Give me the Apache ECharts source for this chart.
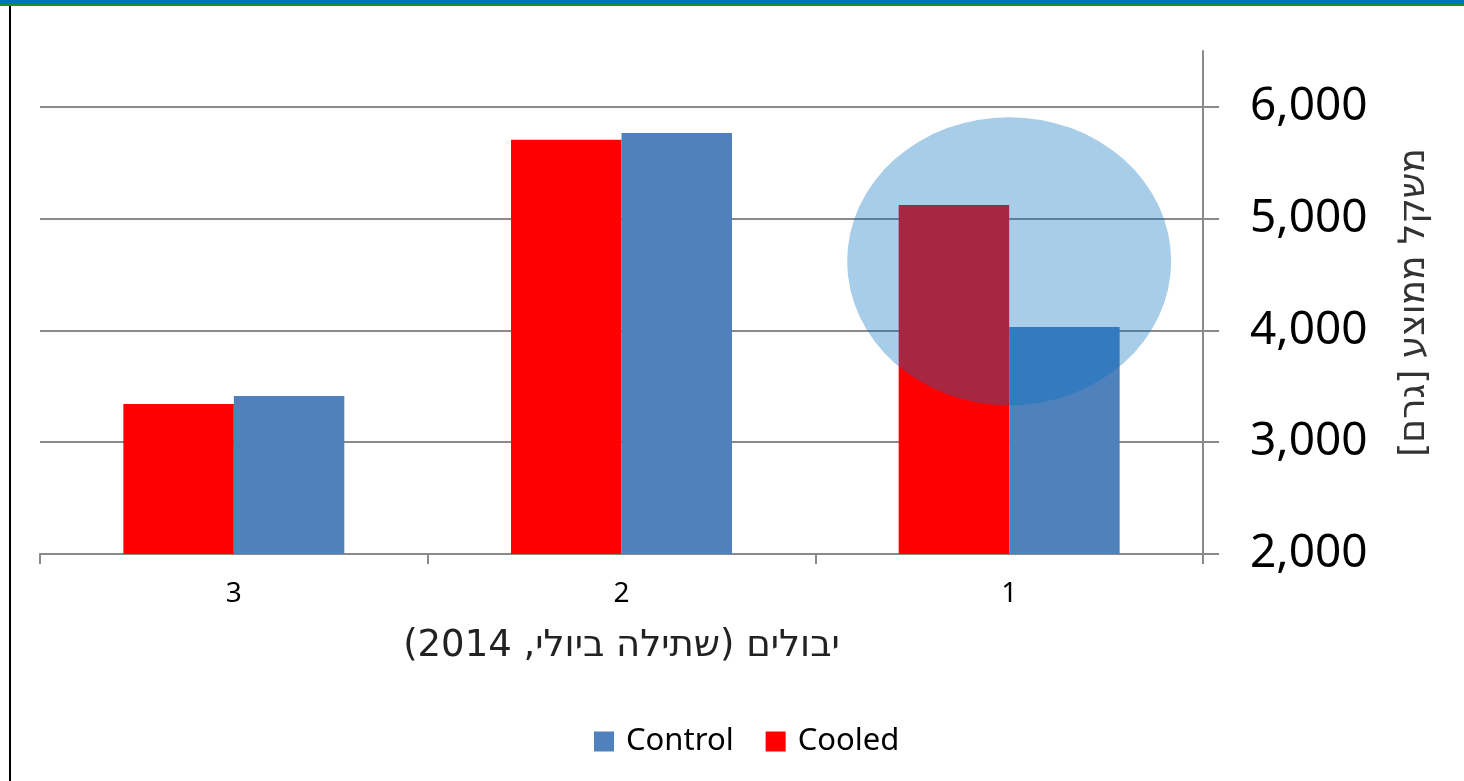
<!DOCTYPE html>
<html>
<head>
<meta charset="utf-8">
<script src="https://cdn.jsdelivr.net/npm/echarts@6/dist/echarts.min.js"></script>
<style>
  html, body { margin: 0; padding: 0; background: #fff; }
  #frameTop { position: absolute; left: 0; top: 0; width: 1464px; height: 4px; background: #0070C0; }
  #frameTop2 { position: absolute; left: 0; top: 4px; width: 1464px; height: 2px; background: #1E8C3A; }
  #frameLeft { position: absolute; left: 9px; top: 6px; width: 2px; height: 775px; background: #000; }
  #chart { position: absolute; left: 0; top: 0; width: 1464px; height: 781px; }
</style>
</head>
<body>
<div id="chart" dir="rtl"></div>
<div id="frameTop"></div>
<div id="frameTop2"></div>
<div id="frameLeft"></div>
<script>
// ---- data ----
const categories = ['3', '2', '1'];
const cooled = [3342, 5705, 5123];
const control = [3414, 5767, 4031];
const yTicks = [2000, 3000, 4000, 5000, 6000];
const highlight = [['1', 4620]];
const xTitle = 'יבולים (שתילה ביולי, 2014)';
const yTitle = 'משקל ממוצע [גרם]';

const chart = echarts.init(document.getElementById('chart'), null, { renderer: 'canvas' });
const gridCol = '#8a8a8a';
chart.setOption({
  animation: false,
  textStyle: { fontFamily: 'Noto Sans, DejaVu Sans, sans-serif' },
  grid: { left: 40, right: 261, top: 51, bottom: 227, containLabel: false },
  legend: {
    data: ['Control', 'Cooled'],
    left: 589,
    top: 721,
    itemWidth: 20,
    itemHeight: 20,
    itemGap: 32,
    icon: 'rect',
    textStyle: { fontSize: 31, color: '#000', fontFamily: 'Noto Sans', padding: [0, 0, 0, 7] }
  },
  xAxis: {
    type: 'category',
    data: categories,
    axisLine: { lineStyle: { color: gridCol, width: 2 } },
    axisTick: { show: true, alignWithLabel: false, length: 10, lineStyle: { color: gridCol, width: 2 } },
    axisLabel: { fontSize: 28, color: '#000', margin: 26, fontFamily: 'Noto Sans' },
    name: xTitle,
    nameLocation: 'middle',
    nameGap: 74,
    nameTextStyle: { fontSize: 37, color: '#222', fontFamily: 'DejaVu Sans' }
  },
  yAxis: {
    type: 'value',
    position: 'right',
    min: 2000,
    max: 6500,
    interval: 1000,
    axisLine: { show: true, lineStyle: { color: gridCol, width: 2 } },
    axisTick: { show: true, length: 16, customValues: yTicks, lineStyle: { color: gridCol, width: 2 } },
    splitLine: { show: true, lineStyle: { color: gridCol, width: 2 } },
    axisLabel: {
      customValues: yTicks,
      fontSize: 46, color: '#000', margin: 47, fontFamily: 'Noto Sans',
      formatter: v => Number(v).toLocaleString('en-US')
    },
    name: yTitle,
    nameLocation: 'middle',
    nameRotate: 90,
    nameGap: 194,
    nameTextStyle: { fontSize: 36, color: '#333', fontFamily: 'DejaVu Sans' }
  },
  series: [
    {
      name: 'Cooled', type: 'bar', data: cooled,
      barGap: '0%', barCategoryGap: '43%',
      itemStyle: { color: '#FF0000' }
    },
    {
      name: 'Control', type: 'bar', data: control,
      barGap: '0%', barCategoryGap: '43%',
      itemStyle: { color: '#4F81BD' }
    },
    {
      name: 'highlight', type: 'scatter', data: highlight,
      symbol: 'circle', symbolSize: [324, 288],
      itemStyle: { color: 'rgb(0,110,191)', opacity: 0.345 },
      silent: true, z: 5
    }
  ]
});
</script>
</body>
</html>
